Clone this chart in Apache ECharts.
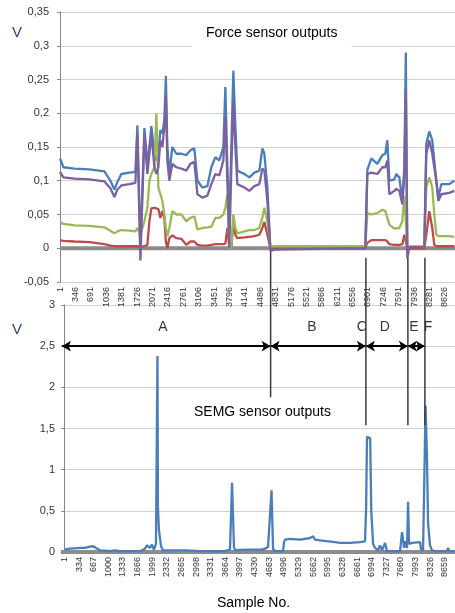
<!DOCTYPE html>
<html>
<head>
<meta charset="utf-8">
<script src="https://cdn.jsdelivr.net/npm/echarts@6/dist/echarts.min.js"></script>
<style>
  html, body { margin: 0; padding: 0; background: #fff; }
  #chart { width: 455px; height: 613px; }
</style>
</head>
<body>
<div id="chart"></div>
<script>
// force sensor outputs (top)
const forceSamples = [0, 76, 323, 659, 995, 1129, 1219, 1286, 1375, 1555, 1689, 1734, 1801, 1891, 1958, 2003, 2047, 2115, 2159, 2204,
  2249, 2294, 2338, 2372, 2405, 2450, 2517, 2607, 2719, 2831, 2920, 3010, 3078, 3190, 3302, 3391, 3481, 3570, 3660, 3705,
  3750, 3794, 3839, 3884, 3929, 3974, 4131, 4243, 4355, 4467, 4534, 4579, 4646, 4714, 4803, 5811, 6841, 6886, 6975, 7110,
  7222, 7289, 7334, 7379, 7491, 7535, 7603, 7670, 7715, 7748, 7782, 7827, 8163, 8207, 8274, 8341, 8386, 8431, 8476, 8543,
  8722, 8834];
const forceBlue = [0.133, 0.120, 0.118, 0.117, 0.114, 0.100, 0.087, 0.098, 0.110, 0.112, 0.113, 0.182, 0.000, 0.178, 0.125, 0.150, 0.181, 0.140, 0.130, 0.140,
  0.175, 0.170, 0.190, 0.255, 0.150, 0.110, 0.150, 0.140, 0.140, 0.138, 0.145, 0.148, 0.100, 0.090, 0.092, 0.120, 0.135, 0.130, 0.150, 0.239,
  0.120, 0.040, 0.150, 0.263, 0.180, 0.115, 0.110, 0.105, 0.112, 0.115, 0.148, 0.140, 0.090, 0.000, 0.000, 0.000, 0.000, 0.116, 0.133, 0.125,
  0.138, 0.140, 0.160, 0.100, 0.102, 0.110, 0.105, 0.070, 0.120, 0.290, -0.005, 0.002, 0.002, 0.155, 0.173, 0.160, 0.130, 0.100, 0.075, 0.095,
  0.095, 0.100];
const forcePurple = [0.113, 0.105, 0.103, 0.102, 0.099, 0.089, 0.076, 0.087, 0.093, 0.095, 0.097, 0.170, -0.018, 0.168, 0.110, 0.140, 0.170, 0.120, 0.110, 0.120,
  0.160, 0.150, 0.180, 0.225, 0.130, 0.100, 0.125, 0.120, 0.118, 0.115, 0.125, 0.128, 0.080, 0.075, 0.078, 0.095, 0.110, 0.108, 0.130, 0.195,
  0.100, 0.000, 0.120, 0.220, 0.150, 0.095, 0.090, 0.085, 0.092, 0.095, 0.118, 0.115, 0.070, -0.004, -0.002, -0.001, 0.000, 0.110, 0.112, 0.110,
  0.120, 0.120, 0.130, 0.080, 0.085, 0.088, 0.085, 0.065, 0.110, 0.235, -0.015, 0.002, 0.002, 0.140, 0.160, 0.140, 0.120, 0.100, 0.070, 0.080,
  0.082, 0.085];
const forceGreen = [0.039, 0.036, 0.034, 0.033, 0.031, 0.026, 0.022, 0.025, 0.027, 0.026, 0.025, 0.030, 0.020, 0.040, 0.060, 0.100, 0.110, 0.120, 0.200, 0.090,
  0.080, 0.070, 0.050, 0.030, 0.018, 0.030, 0.055, 0.050, 0.050, 0.040, 0.045, 0.047, 0.028, 0.030, 0.031, 0.032, 0.045, 0.045, 0.050, 0.060,
  0.080, 0.000, 0.000, 0.050, 0.030, 0.022, 0.025, 0.027, 0.027, 0.030, 0.045, 0.060, 0.040, 0.002, 0.003, 0.003, 0.003, 0.052, 0.050, 0.052,
  0.057, 0.055, 0.045, 0.035, 0.029, 0.030, 0.030, 0.040, 0.078, 0.040, 0.000, 0.002, 0.002, 0.090, 0.105, 0.090, 0.050, 0.020, 0.018, 0.018,
  0.018, 0.017];
const forceRed = [0.012, 0.011, 0.010, 0.009, 0.006, 0.004, 0.003, 0.003, 0.003, 0.003, 0.003, 0.003, 0.002, 0.003, 0.005, 0.040, 0.059, 0.060, 0.060, 0.058,
  0.045, 0.055, 0.045, 0.010, 0.000, 0.015, 0.019, 0.015, 0.014, 0.005, 0.010, 0.010, 0.005, 0.004, 0.004, 0.005, 0.006, 0.006, 0.006, 0.007,
  0.030, 0.000, 0.000, 0.040, 0.020, 0.015, 0.016, 0.017, 0.018, 0.020, 0.030, 0.039, 0.020, 0.000, 0.001, 0.001, 0.001, 0.008, 0.012, 0.012,
  0.012, 0.012, 0.010, 0.006, 0.005, 0.005, 0.005, 0.006, 0.020, 0.010, 0.000, 0.000, 0.000, 0.020, 0.055, 0.030, 0.005, 0.003, 0.003, 0.003,
  0.003, 0.003];
const forceTicks = [1, 346, 691, 1036, 1381, 1726, 2071, 2416, 2761, 3106, 3451, 3796, 4141, 4486, 4831, 5176, 5521, 5866, 6211, 6556,
  6901, 7246, 7591, 7936, 8281, 8626];

// SEMG sensor outputs (bottom)
const semgSamples = [1, 128, 242, 356, 470, 583, 652, 720, 811, 924, 1038, 1152, 1266, 1721, 1835, 1880, 1948, 1994, 2039, 2085,
  2119, 2130, 2153, 2200, 2245, 2745, 3087, 3656, 3770, 3816, 3861, 3907, 3998, 4226, 4499, 4567, 4635, 4715, 4749, 4795,
  4977, 5000, 5022, 5136, 5364, 5478, 5591, 5660, 5705, 5819, 6160, 6274, 6501, 6729, 6843, 6866, 6888, 6960, 6985, 7025,
  7071, 7139, 7184, 7230, 7253, 7298, 7344, 7412, 7640, 7685, 7731, 7754, 7799, 7822, 7845, 7867, 7913, 8095, 8117, 8163,
  8186, 8220, 8254, 8277, 8322, 8368, 8436, 8709, 8732, 8755, 8891];
const semgValues = [0.03, 0.04, 0.045, 0.05, 0.05, 0.065, 0.07, 0.05, 0.02, 0.015, 0.01, 0.02, 0.01, 0.01, 0.04, 0.08, 0.05, 0.09, 0.03, 0.1,
  2.38, 0.55, 0.27, 0.07, 0.02, 0.02, 0.01, 0.01, 0.03, 0.84, 0.05, 0.02, 0.025, 0.03, 0.03, 0.04, 0.06, 0.75, 0.04, 0.01,
  0.01, 0.12, 0.15, 0.16, 0.15, 0.16, 0.17, 0.19, 0.15, 0.14, 0.12, 0.11, 0.11, 0.12, 0.13, 0.5, 1.4, 1.38, 0.5, 0.1,
  0.05, 0.02, 0.08, 0.02, 0.04, 0.11, 0.01, 0.01, 0.01, 0.24, 0.05, 0.13, 0.05, 0.61, 0.1, 0.12, 0.11, 0.12, 0.03, 0.02,
  0.7, 1.78, 1.1, 0.35, 0.08, 0.02, 0.01, 0.01, 0.05, 0.01, 0.01];
const semgTicks = [1, 334, 667, 1000, 1333, 1666, 1999, 2332, 2665, 2998, 3331, 3664, 3997, 4330, 4663, 4996, 5329, 5662, 5995, 6328,
  6661, 6994, 7327, 7660, 7993, 8326, 8659];

// phases A-F (bottom chart sample numbers)
const arrowStarts = [-54, 4694, 6862, 7818];
const arrowEnds = [4694, 6862, 7818, 8205];
const arrowLevel = 2.5;
const phaseNames = ['A', 'B', 'C', 'D', 'E', 'F'];
const phaseLabelX = [2244, 5634, 6772, 7295, 7955, 8274];
const phaseLabelY = 2.73;
const boundarySamples = [4694, 6862, 7818, 8205];
const boundaryTopV = [-0.005, -0.014, -0.014, -0.014];   // top chart value where line starts
const boundaryBottomV = [1.88, 1.54, 1.54, 1.54];        // bottom chart value where line ends

const pairs = (xs, ys) => xs.map((x, i) => [x, ys[i]]);
const comma = v => String(+v.toFixed(2)).replace('.', ',');

const font = 'Liberation Sans, Arial, sans-serif';
const axisGray = '#868686';

const myChart = echarts.init(document.getElementById('chart'));

function yAxisCfg(grid, min, max, step, margin) {
  return {
    type: 'value', gridIndex: grid, min: min, max: max, interval: step,
    axisLine: { show: true, lineStyle: { color: axisGray } },
    axisTick: { show: true, length: 3, lineStyle: { color: axisGray } },
    axisLabel: { color: '#333', fontSize: 11, fontFamily: font, margin: margin, formatter: comma },
    splitLine: { lineStyle: { color: '#d0d0d0' } }
  };
}

function xAxisCfg(grid, min, max, ticks) {
  return {
    type: 'value', gridIndex: grid, min: min, max: max,
    axisLine: { onZero: true, lineStyle: { color: axisGray } },
    axisTick: { show: false },
    splitLine: { show: false },
    axisLabel: {
      rotate: 90, fontSize: 9, fontFamily: font, color: '#333', margin: 5,
      customValues: ticks, formatter: v => String(v)
    }
  };
}

function lineSeries(name, grid, data, color, width, z) {
  return {
    name: name, type: 'line', xAxisIndex: grid, yAxisIndex: grid,
    data: data, symbol: 'none', z: z,
    lineStyle: { color: color, width: width }
  };
}

const options = {
  animation: false,
  title: [
    { text: 'Force sensor outputs', left: 192, top: 19, padding: [7, 14, 9, 14], backgroundColor: '#fff',
      textStyle: { fontSize: 14, fontWeight: 'normal', color: '#000', fontFamily: font } },
    { text: 'SEMG sensor outputs', left: 194, top: 405, padding: 0,
      textStyle: { fontSize: 14, fontWeight: 'normal', color: '#000', fontFamily: font } },
    { text: 'V', left: 12, top: 25, padding: 0,
      textStyle: { fontSize: 15, fontWeight: 'normal', color: '#1f497d', fontFamily: font } },
    { text: 'V', left: 12, top: 322, padding: 0,
      textStyle: { fontSize: 15, fontWeight: 'normal', color: '#1f497d', fontFamily: font } },
    { text: 'Sample No.', left: 217, top: 596, padding: 0,
      textStyle: { fontSize: 14, fontWeight: 'normal', color: '#000', fontFamily: font } }
  ],
  grid: [
    { left: 60, top: 12, width: 395, height: 270 },
    { left: 61, top: 305, width: 394, height: 247 }
  ],
  xAxis: [
    xAxisCfg(0, 0, 8850, forceTicks),
    xAxisCfg(1, -76, 8890, semgTicks)
  ],
  yAxis: [
    yAxisCfg(0, -0.05, 0.35, 0.05, 11),
    yAxisCfg(1, 0, 3, 0.5, 6)
  ],
  series: [
    lineSeries('zero1', 0, [[0, 0], [8850, 0]], '#8c8c8c', 4, 1),
    lineSeries('Blue', 0, pairs(forceSamples, forceBlue), '#4a7ebb', 2.3, 2),
    lineSeries('Red', 0, pairs(forceSamples, forceRed), '#be4b48', 2.3, 3),
    lineSeries('Green', 0, pairs(forceSamples, forceGreen), '#98b954', 2.3, 4),
    lineSeries('Purple', 0, pairs(forceSamples, forcePurple), '#7d60a0', 2.3, 5),
    Object.assign(lineSeries('zero2', 1, [[-76, 0], [8890, 0]], '#8c8c8c', 4, 1), {
      markLine: {
        silent: true, animation: false,
        symbol: ['arrow', 'arrow'], symbolSize: [8, 9],
        lineStyle: { color: '#000', width: 2, type: 'solid' },
        itemStyle: { color: '#000' },
        label: { show: false },
        data: arrowStarts.map((s, i) => [{ coord: [s, arrowLevel] }, { coord: [arrowEnds[i], arrowLevel] }])
      }
    }),
    lineSeries('SEMG', 1, pairs(semgSamples, semgValues), '#4a7ebb', 2.3, 2),
    {
      name: 'phases', type: 'scatter', xAxisIndex: 1, yAxisIndex: 1, silent: true,
      symbolSize: 1, itemStyle: { color: 'rgba(0,0,0,0)' },
      data: phaseNames.map((n, i) => [phaseLabelX[i], phaseLabelY, n]),
      label: { show: true, position: 'inside', formatter: p => p.data[2], fontSize: 14, color: '#000', fontFamily: font }
    }
  ]
};
myChart.setOption(options);

// vertical phase boundaries crossing both charts
const boundaryLines = boundarySamples.map((s, i) => {
  const x = myChart.convertToPixel({ gridIndex: 1 }, [s, 0])[0];
  const y1 = myChart.convertToPixel({ gridIndex: 0 }, [0, boundaryTopV[i]])[1];
  const y2 = myChart.convertToPixel({ gridIndex: 1 }, [s, boundaryBottomV[i]])[1];
  return { type: 'line', z: 50, shape: { x1: x, y1: y1, x2: x, y2: y2 }, style: { stroke: '#3a3a3a', lineWidth: 1.5 } };
});
myChart.setOption({ graphic: boundaryLines });
</script>
</body>
</html>
